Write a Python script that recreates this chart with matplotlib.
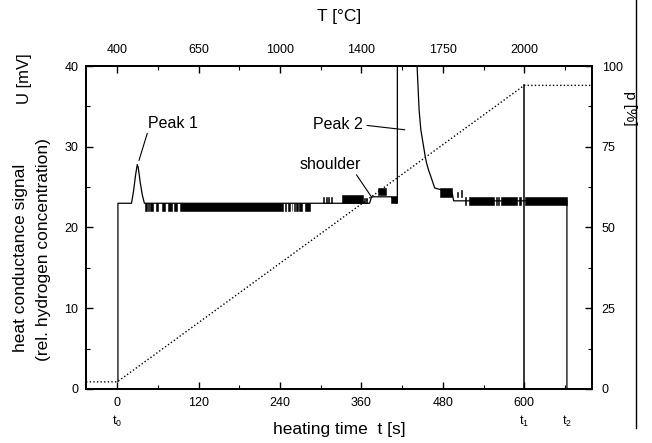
import matplotlib
matplotlib.use("Agg")
import matplotlib.pyplot as plt
from matplotlib.lines import Line2D
from matplotlib.ticker import MultipleLocator

plt.rcParams['font.family'] = ['Liberation Sans', 'DejaVu Sans']
plt.rcParams['mathtext.fontset'] = 'custom'
plt.rcParams['mathtext.rm'] = 'Liberation Sans'
plt.rcParams['mathtext.it'] = 'Liberation Sans'

# heat conductance signal, main trace (t [s], U [mV])
sig_t = [1, 1, 21, 24, 27, 29.5, 31, 34, 37, 40, 372, 375, 404, 412, 413, 413]
sig_U = [0.9, 23, 23, 24.5, 26.5, 27.8, 27.4, 25.5, 24, 23, 23, 23.8, 23.8, 23.0, 23.2, 42]

# trace after peak 2
tail_t = [441, 445, 447.6, 452.5, 454, 456, 459, 461.6, 464, 466, 468, 476, 494, 496, 663, 663]
tail_U = [42, 34.6, 32.1, 29.6, 28.8, 28.0, 27.1, 26.5, 25.9, 25.4, 24.9, 24.7, 24.2, 23.3, 23.3, 0]

# noisy parts of the signal: segments where it flickers between two levels
seg_start = [41.2, 46, 48.5, 57.4, 65.7, 75.5, 83.9, 92.7, 247, 252, 257, 260, 264, 268, 277,
             303, 308, 311, 315, 332, 364, 367, 385, 404,
             476, 501, 507, 512, 518.5, 558, 561.5, 566, 593, 601]
seg_end = [43.6, 47, 53.4, 60.8, 70.6, 80.4, 87.8, 244.9, 249, 255, 258, 262, 266, 272, 284,
           305, 309, 312, 316, 362, 365, 368, 396, 412,
           494, 503, 508, 514, 556, 559.5, 563, 590, 595, 663]
seg_lo = [22] * 15 + [23, 23, 23, 23, 23, 23, 23, 24, 23.0] + [23.8, 23.8, 23.8] + [22.8] * 7
seg_hi = [23] * 15 + [23.8, 23.8, 23.8, 23.8, 24, 23.6, 23.6, 24.9, 23.9] + [24.9, 24.4, 24.6] + [23.8] * 7

# pressure / heating ramp p [%]
p_t = [-46, 0, 600, 700]
p_val = [2.2, 2.2, 94, 94]

# event times
t0, t1, t2 = 0, 600, 663

time_ticks = [0, 120, 240, 360, 480, 600]
temp_labels = ['400', '650', '1000', '1400', '1750', '2000']

fig = plt.figure(figsize=(6.52, 4.43), dpi=100)
ax = fig.add_axes([0.132, 0.122, 0.776, 0.729])

ax.plot(sig_t, sig_U, color='k', lw=0.9)
ax.plot(tail_t, tail_U, color='k', lw=0.9)
ax.bar(seg_start, [h - l for h, l in zip(seg_hi, seg_lo)],
       width=[e - s for e, s in zip(seg_end, seg_start)], bottom=seg_lo,
       align='edge', color='k', edgecolor='k', lw=0.4)

ax.set_xlim(-46, 700)
ax.set_ylim(0, 40)
ax.set_xticks(time_ticks)
ax.xaxis.set_minor_locator(MultipleLocator(60))
ax.set_yticks([0, 10, 20, 30, 40])
ax.yaxis.set_minor_locator(MultipleLocator(5))
ax.tick_params(which='both', direction='in', labelsize=9)
ax.tick_params(which='major', length=5, width=1)
ax.tick_params(which='minor', length=3, width=0.8)
ax.tick_params(axis='x', pad=6)
ax.tick_params(axis='y', pad=5.5)
ax.set_xlabel('heating time  t [s]', fontsize=12.5, labelpad=9)

# right axis: p [%]
ax_r = ax.twinx()
ax_r.plot(p_t, p_val, color='k', lw=1.0, ls=(0, (1, 1.6)))
ax_r.plot([t1, t1], [0, p_val[2]], color='k', lw=1.1)
ax_r.set_ylim(0, 100)
ax_r.set_yticks([0, 25, 50, 75, 100])
ax_r.yaxis.set_minor_locator(MultipleLocator(12.5))
ax_r.tick_params(which='both', direction='in', labelsize=9, pad=7)
ax_r.tick_params(which='major', length=5, width=1)
ax_r.tick_params(which='minor', length=3, width=0.8)

# top axis: temperature
ax_top = ax.twiny()
ax_top.set_xlim(ax.get_xlim())
ax_top.set_xticks(time_ticks)
ax_top.set_xticklabels(temp_labels)
ax_top.xaxis.set_minor_locator(MultipleLocator(60))
ax_top.tick_params(which='both', direction='in', labelsize=9, pad=7)
ax_top.tick_params(which='major', length=5, width=1)
ax_top.tick_params(which='minor', length=3, width=0.8)
ax_top.set_xlabel('T [°C]', fontsize=12.5, labelpad=17)

for a in (ax, ax_r, ax_top):
    for s in a.spines.values():
        s.set_linewidth(1.3)

# annotations
ax.annotate('Peak 1', xy=(32, 28.3), xytext=(45.5, 32.0), ha='left', va='bottom',
            fontsize=11.5, arrowprops=dict(arrowstyle='-', lw=0.8, relpos=(0, 0),
                                           shrinkA=0, shrinkB=0))
ax.annotate('Peak 2', xy=(424, 32.1), xytext=(362, 32.7), ha='right', va='center',
            fontsize=11.5, arrowprops=dict(arrowstyle='-', lw=0.8, relpos=(1, 0.5),
                                           shrinkA=1, shrinkB=0))
ax.annotate('shoulder', xy=(375.5, 23.7), xytext=(314, 27.8), ha='center', va='center',
            fontsize=11.5, arrowprops=dict(arrowstyle='-', lw=0.8, relpos=(0.88, 0.1),
                                           shrinkA=0, shrinkB=0))

# event markers under the time axis
trans = ax.get_xaxis_transform()
for t, name in [(t0, '$\\mathregular{t_0}$'), (t1, '$\\mathregular{t_1}$'), (t2, '$\\mathregular{t_2}$')]:
    ax.text(t, -0.1, name, transform=trans, ha='center', va='center', fontsize=9)

# left axis titles
fig.text(0.038, 0.823, 'U [mV]', rotation=90, ha='center', va='center', fontsize=12)
fig.text(0.032, 0.418, 'heat conductance signal', rotation=90, ha='center', va='center', fontsize=12.5)
fig.text(0.066, 0.436, '(rel. hydrogen concentration)', rotation=90, ha='center', va='center', fontsize=12.5)

# right axis title
fig.text(0.967, 0.756, 'p [%]', rotation=-90, ha='center', va='center', fontsize=11)

# page edge from the scan
fig.add_artist(Line2D([0.976, 0.976], [0.034, 1.0], transform=fig.transFigure, color='k', lw=1.0))

fig.savefig('out.png', dpi=100)
